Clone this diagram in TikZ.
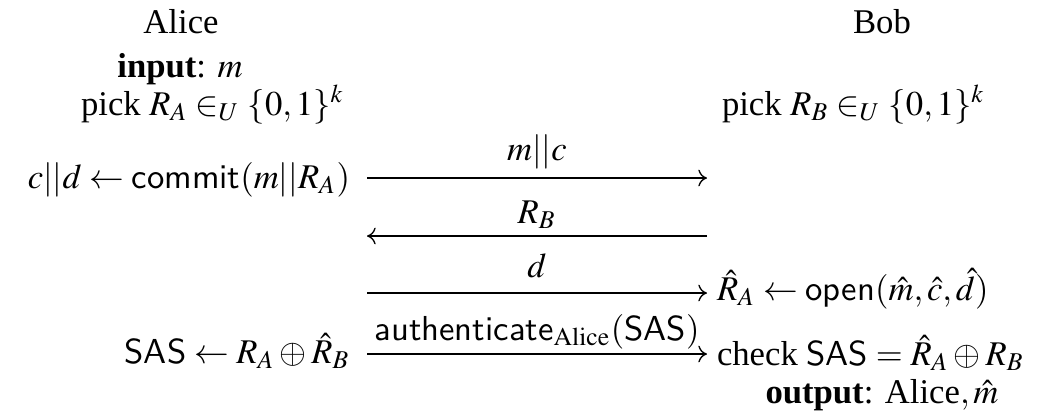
\documentclass[tikz,border=0pt]{standalone}
\usepackage{mathptmx}
\usepackage[no-math]{fontspec}
\setmainfont{Liberation Serif}
\usetikzlibrary{arrows.meta}
\begin{document}
\begin{tikzpicture}[x=0.3pt,y=-0.3pt,
  txt/.style={inner sep=0pt,outer sep=0pt,font=\fontsize{10.4}{12}\selectfont},
  msg/.style={-{To[length=2.6pt,width=5pt]},line width=0.4pt},
  lbl/.style={txt,anchor=base,yshift=#1},
  lbl/.default=5.3pt]
\useasboundingbox (0,0) rectangle (1048,416);
% left column
\node[txt,anchor=base] (alice) at (181,33) {Alice};
\node[txt,anchor=base] (input) at (180,77) {\textbf{input}: $m$};
\node[txt,anchor=base east] (pickA) at (344,115) {pick $R_A \in_U \{0,1\}^k$};
\node[txt,anchor=base east] (commit) at (350,188) {$c||d \leftarrow \textsf{commit}(m||R_A)$};
\node[txt,anchor=base east] (sasA) at (350,363) {$\textsf{SAS} \leftarrow R_A \oplus \hat{R}_B$};
% right column
\node[txt,anchor=base] (bob) at (882,33) {Bob};
\node[txt,anchor=base west] (pickB) at (722,115) {pick $R_B \in_U \{0,1\}^k$};
\node[txt,anchor=base west] (open) at (717,300) {$\hat{R}_A \leftarrow \textsf{open}(\hat{m},\hat{c},\hat{d})$};
\node[txt,anchor=base west] (check) at (717,365) {check $\textsf{SAS} = \hat{R}_A \oplus R_B$};
\node[txt,anchor=base] (output) at (882,403) {\textbf{output}: Alice$,\hat{m}$};
% connector end points
\coordinate (l1) at (367,178); \coordinate (r1) at (707,178);
\coordinate (l2) at (367,236); \coordinate (r2) at (707,236);
\coordinate (l3) at (367,293); \coordinate (r3) at (707,293);
\coordinate (l4) at (367,354); \coordinate (r4) at (707,354);
% messages
\draw[msg] (l1) -- node[lbl=5.4pt] (m1) {$m||c$} (r1);
\draw[msg] (r2) -- node[lbl=3.9pt] (m2) {$R_B$} (l2);
\draw[msg] (l3) -- node[lbl=4.8pt] (m3) {$d$} (r3);
\draw[msg] (l4) -- node[lbl=4.2pt] (m4) {$\textsf{authenticate}_{\mathrm{Alice}}(\textsf{SAS})$} (r4);
\end{tikzpicture}
\end{document}
